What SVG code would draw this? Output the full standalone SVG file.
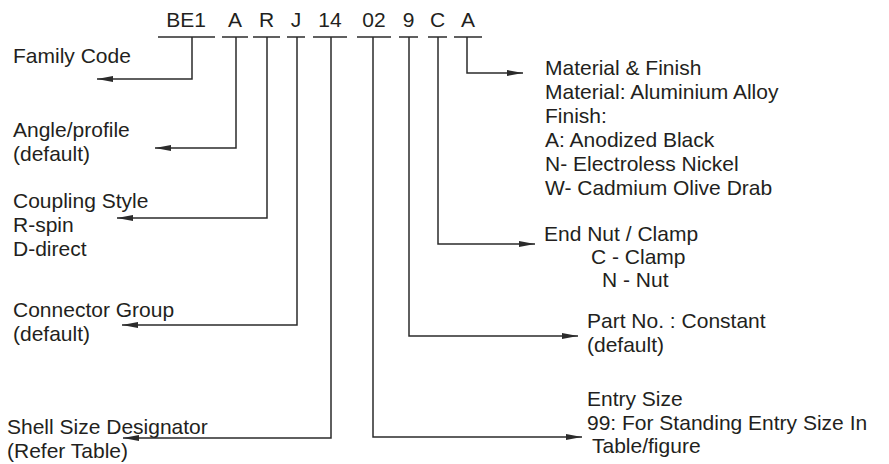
<svg xmlns="http://www.w3.org/2000/svg" width="889" height="464" viewBox="0 0 889 464">
<style>
text{font-family:"Liberation Sans",Arial,sans-serif;font-size:21px;fill:#231f20}
.code text{text-anchor:middle}
.ul{stroke:#2b2b2b;stroke-width:1.5;fill:none}
.conn path{stroke:#2b2b2b;stroke-width:1.5;fill:none;marker-end:url(#arr)}
</style>
<defs>
<marker id="arr" viewBox="0 0 16 6" refX="16" refY="3" markerWidth="16" markerHeight="6" markerUnits="userSpaceOnUse" orient="auto">
<path d="M0,0 L16,3 L0,6 Z" fill="#2b2b2b"/>
</marker>
</defs>
<rect width="889" height="464" fill="#fff"/>
<g class="code">
<g id="c-be1"><text x="186" y="27">BE1</text><line class="ul" x1="158" y1="37" x2="215" y2="37"/></g>
<g id="c-a1"><text x="235" y="27">A</text><line class="ul" x1="222" y1="37" x2="248" y2="37"/></g>
<g id="c-r"><text x="266.5" y="27">R</text><line class="ul" x1="253" y1="37" x2="280" y2="37"/></g>
<g id="c-j"><text x="296" y="27">J</text><line class="ul" x1="287" y1="37" x2="305" y2="37"/></g>
<g id="c-14"><text x="330" y="27">14</text><line class="ul" x1="313" y1="37" x2="347" y2="37"/></g>
<g id="c-02"><text x="374" y="27">02</text><line class="ul" x1="357" y1="37" x2="391" y2="37"/></g>
<g id="c-9"><text x="408.5" y="27">9</text><line class="ul" x1="399" y1="37" x2="418" y2="37"/></g>
<g id="c-c"><text x="437.5" y="27">C</text><line class="ul" x1="428" y1="37" x2="447" y2="37"/></g>
<g id="c-a2"><text x="468" y="27">A</text><line class="ul" x1="454" y1="37" x2="482" y2="37"/></g>
</g>
<g id="l-family"><text x="13" y="62.5">Family Code</text></g>
<g id="l-angle"><text x="13" y="137">Angle/profile</text><text x="13" y="161">(default)</text></g>
<g id="l-coupling"><text x="13" y="208">Coupling Style</text><text x="13" y="232">R-spin</text><text x="13" y="256">D-direct</text></g>
<g id="l-group"><text x="13" y="317">Connector Group</text><text x="13" y="341">(default)</text></g>
<g id="l-shell"><text x="7" y="434">Shell Size Designator</text><text x="7" y="458">(Refer Table)</text></g>
<g id="l-material"><text x="545" y="75">Material &amp; Finish</text><text x="545" y="99">Material: Aluminium Alloy</text><text x="545" y="123">Finish:</text><text x="545" y="147">A: Anodized Black</text><text x="545" y="171">N- Electroless Nickel</text><text x="545" y="195">W- Cadmium Olive Drab</text></g>
<g id="l-endnut"><text x="544" y="241">End Nut / Clamp</text><text x="591" y="264">C - Clamp</text><text x="602" y="287">N - Nut</text></g>
<g id="l-partno"><text x="587" y="328">Part No. : Constant</text><text x="587" y="352">(default)</text></g>
<g id="l-entry"><text x="587" y="406">Entry Size</text><text x="587" y="430">99: For Standing Entry Size In</text><text x="592" y="453">Table/figure</text></g>
<g class="conn" id="connectors">
<path d="M192,37 V79 H97"/>
<path d="M236,37 V148 H155"/>
<path d="M267,37 V218 H117"/>
<path d="M297,37 V325 H122"/>
<path d="M331,37 V438 H123"/>
<path d="M373,37 V437 H582"/>
<path d="M409,37 V336 H578"/>
<path d="M438,37 V244 H535"/>
<path d="M467,37 V73 H523"/>
</g>
</svg>
